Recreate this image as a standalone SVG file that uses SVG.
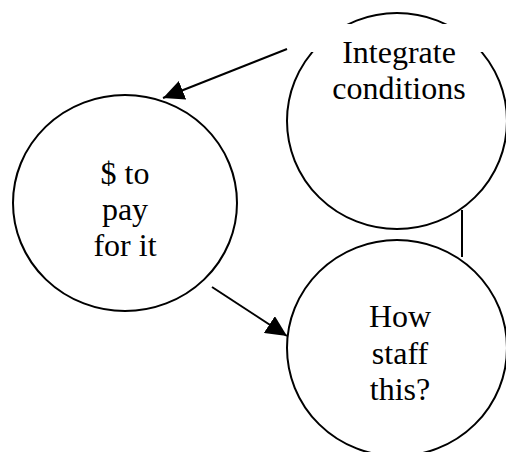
<svg xmlns="http://www.w3.org/2000/svg" width="506" height="452" viewBox="0 0 506 452">
<style>
.node{fill:#fff;stroke:#000;stroke-width:2}
.lbl{font-family:'Liberation Serif','Times New Roman',Tinos,'DejaVu Serif',serif;font-size:32px;fill:#000;text-anchor:middle}
.edge{stroke:#000;stroke-width:2;fill:none}
</style>
<defs>
<marker id="arr" markerUnits="userSpaceOnUse" markerWidth="21" markerHeight="20" refX="21" refY="10" orient="auto" viewBox="0 0 21 20">
<path d="M0,0 L21,10 L0,20 z" fill="#000"/>
</marker>
</defs>
<g id="n-integrate">
<ellipse class="node" cx="397" cy="121" rx="110" ry="108"/>
<rect x="310" y="24" width="178" height="28" fill="#fff"/>
<text class="lbl" x="399" y="63">Integrate</text>
<text class="lbl" x="399" y="99">conditions</text>
</g>
<g id="n-money">
<ellipse class="node" cx="125" cy="203" rx="112" ry="108"/>
<text class="lbl" x="125" y="184">$ to</text>
<text class="lbl" x="125" y="220">pay</text>
<text class="lbl" x="125" y="256">for it</text>
</g>
<g id="n-staff">
<ellipse class="node" cx="397" cy="348" rx="110" ry="108"/>
<text class="lbl" x="400" y="327">How</text>
<text class="lbl" x="400" y="364">staff</text>
<text class="lbl" x="400" y="400">this?</text>
</g>
<g id="connectors">
<line class="edge" x1="287" y1="49" x2="163" y2="98" marker-end="url(#arr)"/>
<line class="edge" x1="212" y1="287" x2="287" y2="336" marker-end="url(#arr)"/>
<line class="edge" x1="462" y1="210" x2="462" y2="257"/>
</g>
</svg>
